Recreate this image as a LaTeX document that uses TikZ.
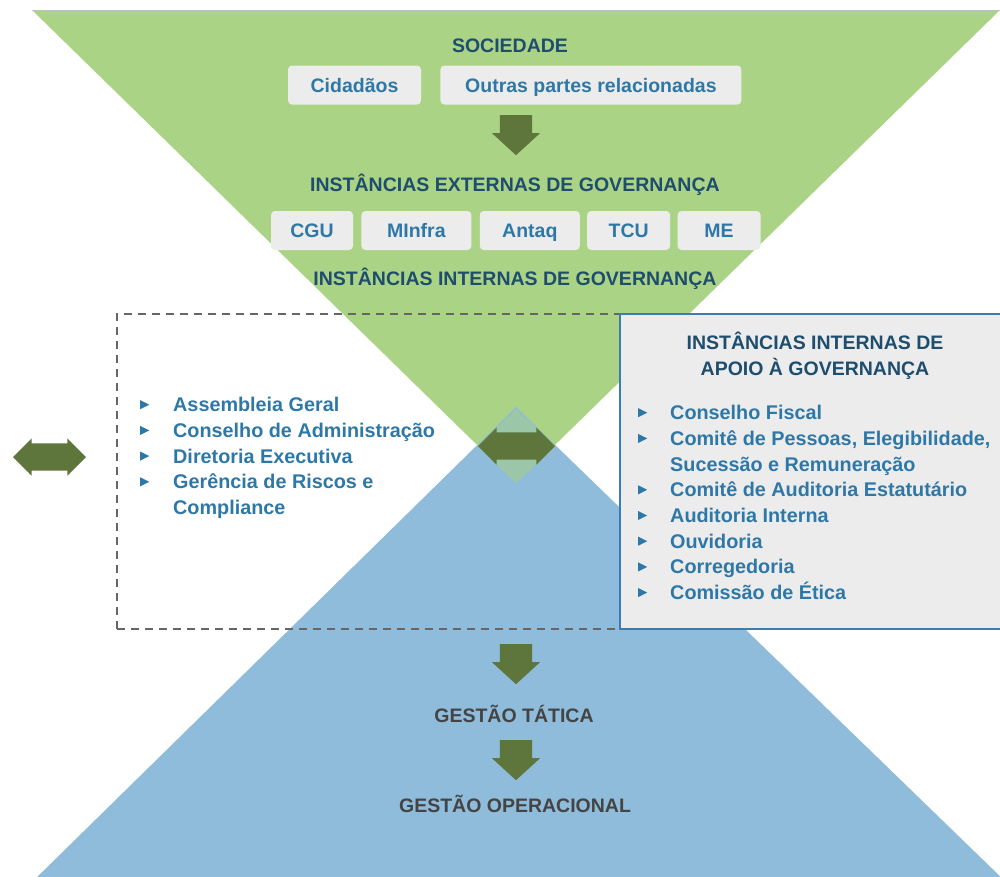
\documentclass[tikz,border=0pt]{standalone}
\usepackage{fontspec}
\setmainfont{Liberation Sans}
\usetikzlibrary{
    shapes.arrows,
    positioning,
}
\definecolor{govgreen}{HTML}{ABD385}
\definecolor{govblue}{HTML}{8EBCDA}
\definecolor{arrowgreen}{HTML}{5E763B}
\definecolor{palegreen}{HTML}{9CC6A8}
\definecolor{boxgray}{HTML}{ECECEC}
\definecolor{headblue}{HTML}{1E4D6E}
\definecolor{itemblue}{HTML}{2E78A8}
\definecolor{mgmtgray}{HTML}{444444}
\definecolor{frameblue}{HTML}{3A7DB3}
\definecolor{dashgray}{HTML}{666666}

\newcommand{\tribullet}{\tikz[baseline=0pt]\fill[itemblue] (0pt,2.5pt) -- (9pt,7pt) -- (0pt,11.5pt) -- cycle;}
\newcommand{\govfont}{\fontsize{19.5}{25.6}\selectfont\bfseries}
\newcommand{\itemfont}{\fontsize{19.8}{25.7}\selectfont\bfseries}

\tikzstyle{heading} = [font=\govfont, text=headblue, text height=14pt, text depth=0pt, inner sep=0pt]
\tikzstyle{mgmt} = [heading, text=mgmtgray]
\tikzstyle{entity} = [rectangle, fill=boxgray, rounded corners=4pt, font=\govfont,
    text=itemblue, text height=14pt, text depth=0pt, minimum height=39pt, inner sep=0pt]
\tikzstyle{downarrow} = [single arrow, fill=arrowgreen, rotate=-90, anchor=tail, inner xsep=0pt, inner ysep=16pt,
    minimum height=40pt, single arrow head extend=8pt, single arrow tip angle=95]
\tikzstyle{bothways} = [double arrow, fill=arrowgreen, inner xsep=0pt, inner ysep=13.5pt,
    minimum height=75pt, double arrow head extend=5pt, double arrow tip angle=90]
\tikzstyle{itemlist} = [anchor=north west, inner sep=0pt, font=\itemfont, text=itemblue, align=left]

\begin{document}
\begin{tikzpicture}[x=1pt, y=-1pt]
        \useasboundingbox (0,0) rectangle (1000,876);
        % Background triangles
        \fill[govgreen] (32,10) -- (1000,10) -- (516,483) -- cycle;
        \draw[black!25, line width=1pt] (32,10) -- (1000,10);
        \fill[govblue] (516,407) -- (1008,884) -- (30,884) -- cycle;
        \fill[palegreen] (516,409) -- (477,446) -- (516,483) -- (556,446) -- cycle;
        % Place nodes
        \node [heading] (society) at (510,45) {SOCIEDADE};
        \node [entity, minimum width=133pt] (citizens) at (354.5,85) {Cidadãos};
        \node [entity, minimum width=301pt, right=19pt of citizens] (parties) {Outras partes relacionadas};
        \node [downarrow] (down1) at (516,115) {};
        \node [heading] (external) at (515,184) {INSTÂNCIAS EXTERNAS DE GOVERNANÇA};
        \node [entity, minimum width=82pt] (cgu) at (312,230.5) {CGU};
        \node [entity, minimum width=110pt, right=8pt of cgu] (minfra) {MInfra};
        \node [entity, minimum width=100pt, right=8pt of minfra] (antaq) {Antaq};
        \node [entity, minimum width=83pt, right=7pt of antaq] (tcu) {TCU};
        \node [entity, minimum width=83pt, right=7pt of tcu] (me) {ME};
        \node [heading] (internal) at (515,278) {INSTÂNCIAS INTERNAS DE GOVERNANÇA};
        \node [draw=dashgray, dashed, dash pattern=on 8pt off 6pt, line width=1.5pt,
            minimum width=508pt, minimum height=315pt, inner sep=0pt] (board) at (371,471.5) {};
        \node [bothways, minimum height=77pt] (link) at (516.5,446) {};
        \node [bothways, minimum height=73pt] (outside) at (49.5,457) {};
        \node [itemlist] (boardlist) at (140,393.5) {%
            \begin{tabular}{@{}p{33pt}@{}l@{}}
            \tribullet & Assembleia Geral\\
            \tribullet & Conselho de Administração\\
            \tribullet & Diretoria Executiva\\
            \tribullet & Gerência de Riscos e\\
                       & Compliance
            \end{tabular}};
        \node [fill=boxgray, draw=frameblue, line width=2pt, minimum width=392pt,
            minimum height=315pt, inner sep=0pt] (support) at (816,471.5) {};
        \node [font=\govfont, text=headblue, align=center, inner sep=0pt] (supporttitle) at (815,356) {INSTÂNCIAS INTERNAS DE\\APOIO À GOVERNANÇA};
        \node [itemlist] (supportlist) at (638,401.5) {%
            \begin{tabular}{@{}p{32pt}@{}l@{}}
            \tribullet & Conselho Fiscal\\
            \tribullet & Comitê de Pessoas, Elegibilidade,\\
                       & Sucessão e Remuneração\\
            \tribullet & Comitê de Auditoria Estatutário\\
            \tribullet & Auditoria Interna\\
            \tribullet & Ouvidoria\\
            \tribullet & Corregedoria\\
            \tribullet & Comissão de Ética
            \end{tabular}};
        \node [downarrow] (down2) at (516,644) {};
        \node [mgmt] (tactical) at (514,715) {GESTÃO TÁTICA};
        \node [downarrow] (down3) at (516,740) {};
        \node [mgmt] (operational) at (515,805) {GESTÃO OPERACIONAL};
    \end{tikzpicture}
\end{document}
